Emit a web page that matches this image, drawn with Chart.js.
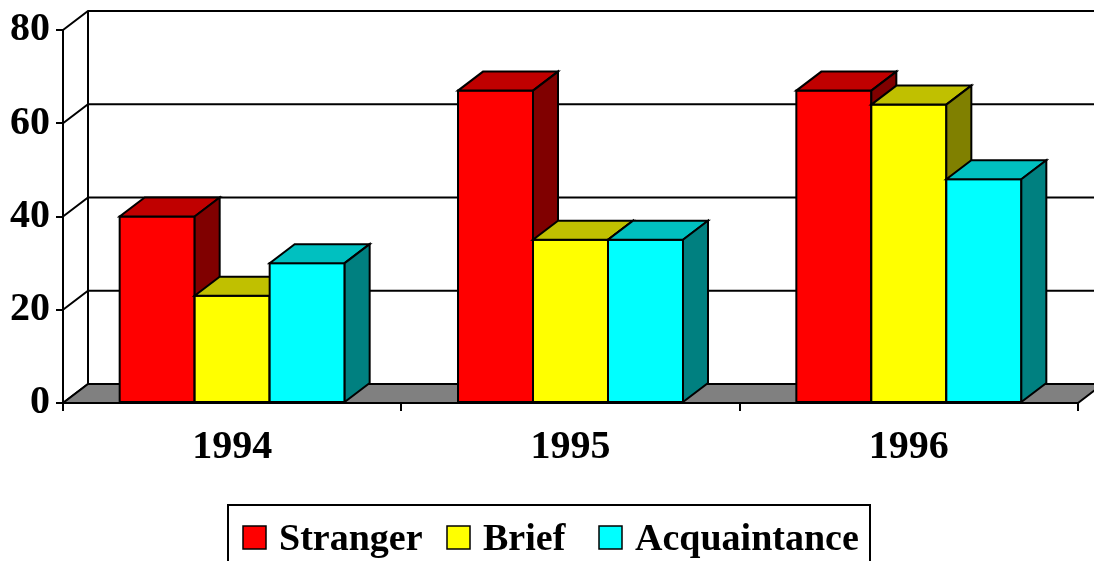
<!DOCTYPE html>
<html>
<head>
<meta charset="utf-8">
<script src="https://cdn.jsdelivr.net/npm/chart.js@4/dist/chart.umd.min.js"></script>
<style>
  html, body { margin: 0; padding: 0; background: #fff; }
  #wrap { width: 1094px; height: 561px; position: relative; }
</style>
</head>
<body>
<div id="wrap"><canvas id="incidentChart"></canvas></div>
<script>
// --- Data ---
const years = ['1994', '1995', '1996'];
const stranger = [40, 67, 67];
const brief = [23, 35, 64];
const acquaintance = [30, 35, 48];
const yTickStep = 20;
const yMax = 80;

const FONT = '"Liberation Serif", "Times New Roman", serif';
const DEPTH_X = 25, DEPTH_Y = -19;

// --- 3D walls, floor and boxes ---
// Bars are drawn here (category by category, left to right) so that each
// box overlaps the side face of the one before it.
const box3d = {
    id: 'box3d',
    beforeDatasetsDraw(chart) {
        const { ctx, chartArea: a, scales: { y } } = chart;
        const dx = DEPTH_X, dy = DEPTH_Y;

        ctx.save();
        ctx.lineJoin = 'miter';
        ctx.strokeStyle = '#000';

        // back wall gridlines + left wall diagonals
        ctx.lineWidth = 2;
        y.ticks.forEach(t => {
            const py = y.getPixelForValue(t.value);
            ctx.beginPath();
            ctx.moveTo(a.left, py);
            ctx.lineTo(a.left + dx, py + dy);
            ctx.lineTo(a.right + dx + 40, py + dy);
            ctx.stroke();
        });
        ctx.beginPath();
        ctx.moveTo(a.left + dx, a.top + dy);
        ctx.lineTo(a.left + dx, a.bottom + dy);
        ctx.stroke();

        // floor
        ctx.beginPath();
        ctx.moveTo(a.left, a.bottom);
        ctx.lineTo(a.right, a.bottom);
        ctx.lineTo(a.right + dx, a.bottom + dy);
        ctx.lineTo(a.left + dx, a.bottom + dy);
        ctx.closePath();
        ctx.fillStyle = '#808080';
        ctx.fill();
        ctx.stroke();

        const metas = chart.data.datasets.map((ds, i) => chart.getDatasetMeta(i));
        for (let i = 0; i < years.length; i++) {
            metas.forEach((meta, d) => {
                const ds = chart.data.datasets[d];
                const el = meta.data[i];
                const { x, y: top, base, width } = el.getProps(['x', 'y', 'base', 'width'], true);
                const l = x - width / 2, r = x + width / 2;

                // front
                ctx.fillStyle = ds.backgroundColor;
                ctx.fillRect(l, top, width, base - top);
                ctx.strokeRect(l, top, width, base - top);

                // top
                ctx.beginPath();
                ctx.moveTo(l, top);
                ctx.lineTo(r, top);
                ctx.lineTo(r + dx, top + dy);
                ctx.lineTo(l + dx, top + dy);
                ctx.closePath();
                ctx.fillStyle = ds.topColor;
                ctx.fill();
                ctx.stroke();

                // side
                ctx.beginPath();
                ctx.moveTo(r, top);
                ctx.lineTo(r + dx, top + dy);
                ctx.lineTo(r + dx, base + dy);
                ctx.lineTo(r, base);
                ctx.closePath();
                ctx.fillStyle = ds.sideColor;
                ctx.fill();
                ctx.stroke();
            });
        }
        ctx.restore();
        return false;
    }
};

// --- Boxed legend under the axis ---
const boxLegend = {
    id: 'boxLegend',
    afterDraw(chart) {
        const ctx = chart.ctx;
        ctx.save();
        ctx.lineWidth = 2;
        ctx.strokeStyle = '#000';
        ctx.strokeRect(228, 505, 642, 80);

        ctx.font = 'bold 38px ' + FONT;
        ctx.textBaseline = 'alphabetic';
        const starts = [243, 447, 599];
        chart.data.datasets.forEach((ds, i) => {
            const sx = starts[i];
            ctx.fillStyle = ds.backgroundColor;
            ctx.fillRect(sx, 526, 23, 23);
            ctx.lineWidth = 1.5;
            ctx.strokeRect(sx, 526, 23, 23);
            ctx.fillStyle = '#000';
            ctx.fillText(ds.label, sx + 36, 550);
        });
        ctx.restore();
    }
};

const ctx = document.getElementById('incidentChart').getContext('2d');
new Chart(ctx, {
    type: 'bar',
    data: {
        labels: years,
        datasets: [
            { label: 'Stranger', data: stranger, backgroundColor: '#ff0000', topColor: '#c00000', sideColor: '#800000' },
            { label: 'Brief', data: brief, backgroundColor: '#ffff00', topColor: '#c0c000', sideColor: '#808000' },
            { label: 'Acquaintance', data: acquaintance, backgroundColor: '#00ffff', topColor: '#00c0c0', sideColor: '#008080' }
        ]
    },
    options: {
        responsive: true,
        maintainAspectRatio: false,
        animation: false,
        datasets: { bar: { categoryPercentage: 0.665, barPercentage: 1 } },
        layout: { padding: { top: 28, right: 16, bottom: 0, left: 0 } },
        plugins: { legend: { display: false }, tooltip: { enabled: false } },
        scales: {
            x: {
                grid: { drawOnChartArea: false, drawTicks: true, tickLength: 8, color: '#000', lineWidth: 2, offset: true },
                border: { display: true, color: '#000', width: 2 },
                ticks: { color: '#000', padding: 13, font: { family: FONT, size: 40, weight: 'bold' } },
                afterFit(s) { s.height = 158; }
            },
            y: {
                min: 0,
                max: yMax,
                grid: { drawOnChartArea: false, drawTicks: true, tickLength: 7, color: '#000', lineWidth: 2 },
                border: { display: true, color: '#000', width: 2 },
                ticks: { stepSize: yTickStep, color: '#000', padding: 6, font: { family: FONT, size: 40, weight: 'bold' } },
                afterFit(s) { s.width = 63; }
            }
        }
    },
    plugins: [box3d, boxLegend]
});
</script>
</body>
</html>
